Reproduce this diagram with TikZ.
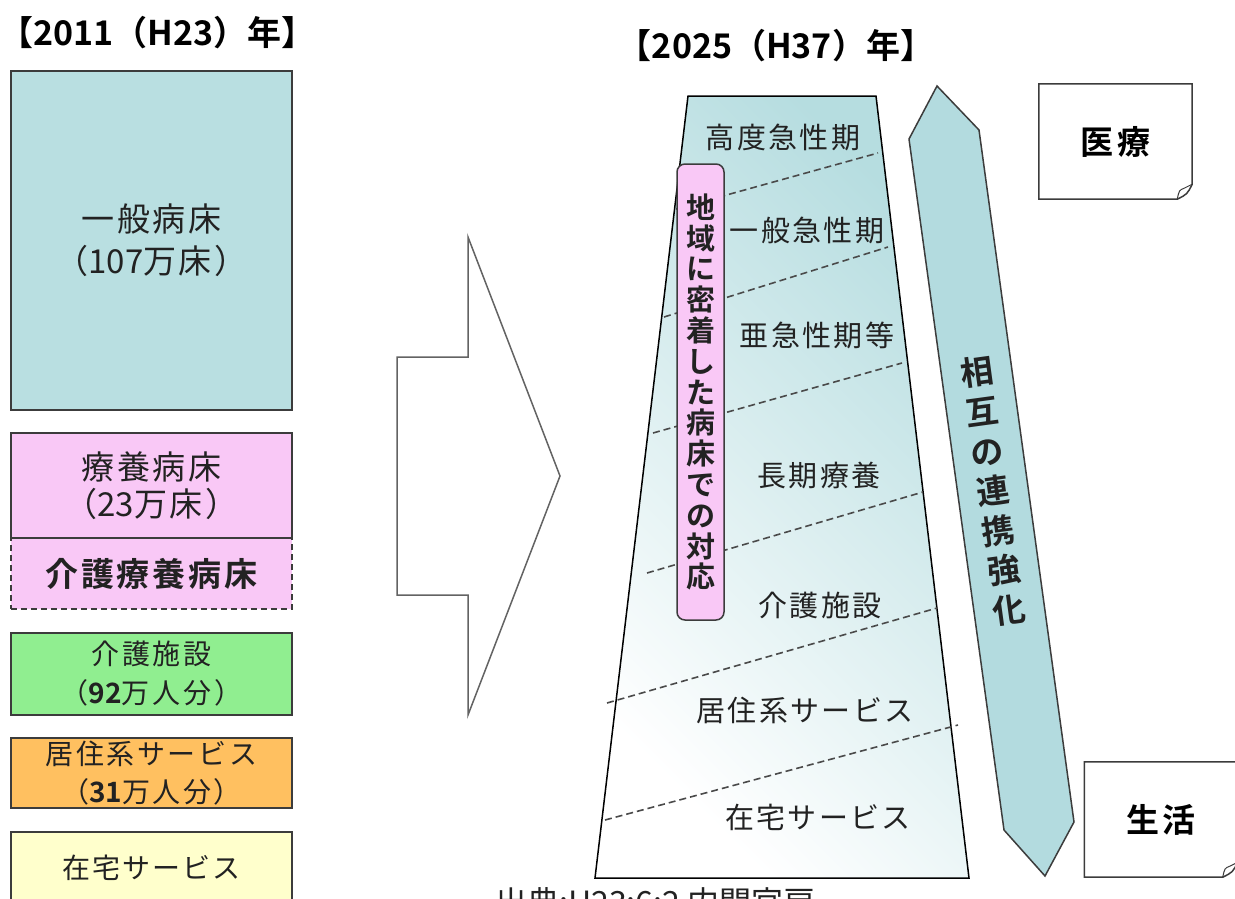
\documentclass[tikz,border=0pt]{standalone}
\usepackage{fontspec}
\setmainfont{Noto Sans CJK JP}[BoldFont={Noto Sans CJK JP Bold}]
\newcommand\jfs[3]{\fontsize{#1pt}{#2pt}\selectfont\addfontfeatures{LetterSpace=#3}}
\newcommand\nls[1]{{\addfontfeatures{LetterSpace=0}#1}}
\definecolor{tealbox}{HTML}{B9DFE1}
\definecolor{pinkbox}{HTML}{F9C8F6}
\definecolor{greenbox}{HTML}{90EE90}
\definecolor{orangebox}{HTML}{FFC060}
\definecolor{yellowbox}{HTML}{FFFFCC}
\definecolor{edge}{HTML}{3C3C3C}
\definecolor{txt}{HTML}{222222}
\definecolor{dashc}{HTML}{4A4A4A}
\definecolor{trapteal}{HTML}{B6DDE0}
\definecolor{arrowteal}{HTML}{B3DBDF}
\begin{document}
\begin{tikzpicture}[x=1pt,y=-1pt,
  oldbox/.style={draw=edge, line width=1.8pt, minimum width=281pt, inner sep=0pt, align=center, text=txt},
  trapl/.style={text=txt, inner sep=0pt, font=\jfs{29}{30}{8}},
  dline/.style={draw=dashc, line width=1.6pt, dash pattern=on 7pt off 4pt},
  paper/.style={inner sep=0pt, minimum width=153pt, minimum height=115pt, font=\bfseries\jfs{33}{36}{12}, text=black},
  papedge/.style={draw=edge, line width=1.5pt},
  yeartitle/.style={font=\bfseries\jfs{34}{36}{0}, text=black, inner sep=0pt}]
\useasboundingbox (0,0) rectangle (1235,898);
\clip (0,0) rectangle (1235,898);
\fill[white] (0,0) rectangle (1235,898);

% titles
\node[yeartitle] (ti1) at (157.5,33) {【2011（H23）年】};
\node[yeartitle] (ti2) at (776,46) {【2025（H37）年】};

% left column
\node[oldbox, fill=tealbox, minimum height=339pt, font=\jfs{33}{42}{8}] (b1) at (151.5,240.5) {一般病床\\（\nls{107}万床）};
\node[oldbox, fill=pinkbox, dashed, dash pattern=on 6pt off 4pt, minimum height=71pt, font=\bfseries\jfs{33}{36}{9}] (b3) at (151.5,573.5) {介護療養病床};
\node[oldbox, fill=pinkbox, minimum height=105pt, font=\jfs{33}{37}{8}] (b2) at (151.5,485.5) {療養病床\\（\nls{23}万床）};
\node[oldbox, fill=greenbox, minimum height=82pt, font=\jfs{28}{39}{10}] (b4) at (151.5,674) {介護施設\\（\nls{\bfseries 92}万人分）};
\node[oldbox, fill=orangebox, minimum height=70pt, font=\jfs{28}{38}{9}] (b5) at (151.5,773) {居住系サービス\\（\nls{\bfseries 31}万人分）};
\node[oldbox, fill=yellowbox, minimum height=96pt] (b6) at (151.5,880) {};
\node[text=txt, inner sep=0pt, font=\jfs{28}{30}{7}] (t6) at (151.5,868) {在宅サービス};

% big arrow
\draw[draw=edge!80, line width=1.5pt, fill=white, line join=miter]
  (468,237) -- (468,357) -- (397,357) -- (397,595) -- (468,595) -- (468,715) -- (560,476) -- cycle;

% trapezoid
\shadedraw[top color=trapteal, bottom color=white, shading angle=-45, draw=black, line width=1.5pt]
  (688,96) -- (876,96) -- (969,878) -- (595,878) -- cycle;
\draw[dline] (676,209) -- (878,153);
\draw[dline] (664,317) -- (888,247);
\draw[dline] (653,433) -- (902,363);
\draw[dline] (647,573) -- (923,492);
\draw[dline] (607,703) -- (937,608);
\draw[dline] (605,820) -- (958,725);

\node[trapl] (k1) at (783,137) {高度急性期};
\node[trapl] (k2) at (807,230) {一般急性期};
\node[trapl] (k3) at (817,335) {亜急性期等};
\node[trapl] (k4) at (819,475) {長期療養};
\node[trapl] (k5) at (820,605) {介護施設};
\node[trapl] (k6) at (805,710) {居住系サービス};
\node[trapl] (k7) at (818,817) {在宅サービス};

\node[draw=edge, fill=pinkbox, rounded corners=8pt, line width=1.5pt, minimum width=47pt, minimum height=456pt, inner sep=0pt, align=center, text=txt, font=\bfseries\jfs{29}{30.8}{0}] (pk) at (700.5,392) {地\\域\\に\\密\\着\\し\\た\\病\\床\\で\\の\\対\\応};

% linkage arrow
\draw[draw=edge, fill=arrowteal, line width=1.5pt]
  (937,86) -- (979,130) -- (1074,822) -- (1045,876) -- (1004,830) -- (909,139) -- cycle;
\node[rotate=7.8, inner sep=0pt, align=center, text=txt, font=\bfseries\jfs{33}{40}{0}] (rt) at (993,491) {相\\互\\の\\連\\携\\強\\化};

% paper boxes
\node[paper] (med) at (1115.5,141.5) {医療};
\draw[papedge] (med.north west) -- (med.north east) -- ([yshift=15pt]med.south east)
  .. controls ([xshift=-5pt,yshift=5pt]med.south east) .. ([xshift=-15pt]med.south east) -- (med.south west) -- cycle;
\draw[papedge, line width=1pt] ([xshift=-15pt]med.south east) .. controls ([xshift=-13pt,yshift=9pt]med.south east) .. ([xshift=-8pt,yshift=11pt]med.south east) -- ([yshift=15pt]med.south east);

\node[paper] (life) at (1161,819.5) {生活};
\draw[papedge] (life.north west) -- (life.north east) -- ([yshift=15pt]life.south east)
  .. controls ([xshift=-5pt,yshift=5pt]life.south east) .. ([xshift=-15pt]life.south east) -- (life.south west) -- cycle;
\draw[papedge, line width=1pt] ([xshift=-15pt]life.south east) .. controls ([xshift=-13pt,yshift=9pt]life.south east) .. ([xshift=-8pt,yshift=11pt]life.south east) -- ([yshift=15pt]life.south east);

% source (cut off at the lower edge, as in the reference)
\node[anchor=base west, inner sep=0pt, text=txt, font=\jfs{32}{34}{0}] (src) at (495,914) {出典:H23:6:2 内閣官房};
\end{tikzpicture}
\end{document}
